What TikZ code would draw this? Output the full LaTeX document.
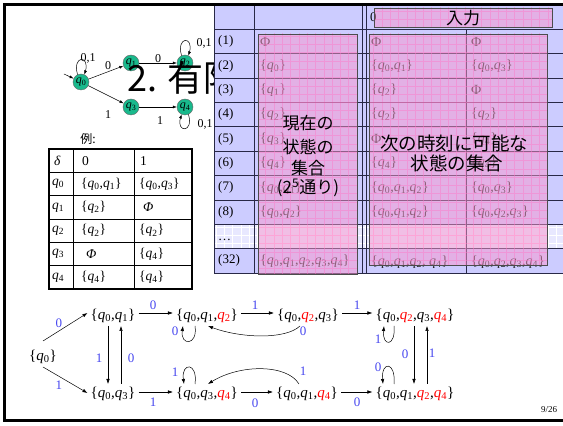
\documentclass[tikz,border=0pt]{standalone}
\usepackage{fontspec}
\setmainfont{Liberation Serif}
\newfontfamily\jp{Noto Sans CJK JP}
\usetikzlibrary{arrows.meta}
\definecolor{lav}{RGB}{204,204,255}
\definecolor{lavlight}{RGB}{232,232,255}
\definecolor{pinkov}{RGB}{250,150,205}
\definecolor{pinkgrid}{RGB}{255,120,200}
\definecolor{autogreen}{RGB}{25,185,140}
\definecolor{lblblue}{RGB}{70,70,240}
\definecolor{tline}{RGB}{40,40,70}
\newcommand{\qsub}[1]{\textit{q}\textsubscript{#1}}
\newcommand{\qred}[1]{\textcolor{red}{\qsub{#1}}}
\begin{document}
\begin{tikzpicture}[x=1pt,y=1pt,
  anode/.style={circle,fill=autogreen,draw=black!60,line width=0.4pt,minimum size=16pt,inner sep=0pt,font=\fontsize{12}{12}\selectfont},
  aedge/.style={-{Latex[length=4pt,width=3pt]},line width=0.5pt},
  alabel/.style={font=\fontsize{12}{12}\selectfont,inner sep=0pt},
  cell/.style={anchor=west,inner sep=0pt,font=\fontsize{14}{14}\selectfont,text=black!85},
  rowlab/.style={anchor=west,inner sep=0pt,font=\fontsize{13}{13}\selectfont},
  bigjp/.style={font=\jp\fontsize{17}{17}\selectfont,inner sep=0pt},
  bigjpr/.style={font=\jp\fontsize{18.5}{18.5}\selectfont,inner sep=0pt},
  dcell/.style={anchor=west,inner sep=0pt,font=\fontsize{13.5}{13.5}\selectfont},
  gnode/.style={inner sep=3pt,font=\fontsize{15}{15}\selectfont},
  gedge/.style={-{Latex[length=5pt,width=3.5pt]},line width=0.5pt},
  glabel/.style={text=lblblue,font=\fontsize{13}{13}\selectfont,inner sep=0pt},
  pinkbox/.style={fill=pinkov,fill opacity=0.5},
  pinkborder/.style={draw=black!70,line width=0.8pt},
  tl/.style={draw=tline,line width=0.7pt}
]
\useasboundingbox (0,0) rectangle (563,426);
\fill[white] (0,0) rectangle (563,426);

% ---------- automaton ----------
\node[anode] (q0) at (81,344) {\qsub{0}};
\node[anode] (q1) at (131,363) {\qsub{1}};
\node[anode] (q2) at (185,363) {\qsub{2}};
\node[anode] (q3) at (131,319) {\qsub{3}};
\node[anode] (q4) at (185,319) {\qsub{4}};
\coordinate (init) at (64,352);
\draw[aedge] (init) -- (q0);
\draw[aedge] (q0) -- (q1);
\draw[aedge] (q0) -- (q3);
\draw[aedge] (q1) -- (q2);
\draw[aedge] (q3) -- (q4);
\draw[aedge] (q0.115) .. controls (72,371) and (90,371) .. (q0.65);
\draw[aedge] (q2.115) .. controls (176,390) and (194,390) .. (q2.65);
\draw[aedge] (q4.-65) .. controls (194,293) and (176,293) .. (q4.-115);
\node[alabel] (l01a) at (88,368) {0,1};
\node[alabel] (l0a) at (108,360) {0};
\node[alabel] (l1a) at (108,311) {1};
\node[alabel] (l0b) at (158,367) {0};
\node[alabel] (l1b) at (160,305) {1};
\node[alabel] (l01b) at (204,383) {0,1};
\node[alabel] (l01c) at (205,302) {0,1};

% ---------- title ----------
\node[anchor=base west,inner sep=0pt,font=\jp\fontsize{36}{36}\selectfont] (title) at (127,334) {2. 有限};

% ---------- big table ----------
\fill[lav] (214,153.04) rectangle (566,421);
\fill[lavlight] (214,177.4) rectangle (566,201.76);
\begin{scope}
  \clip (214,177.4) rectangle (566,201.76);
  \draw[white,line width=0.35pt,step=8.3] (200,170) grid (570,210);
\end{scope}
\foreach \k in {1,...,11} { \draw[tl] (214,{421-24.36*\k}) -- (566,{421-24.36*\k}); }
\draw[tl] (214,153.04) -- (214,421);
\draw[tl] (254,153.04) -- (254,421);
\draw[tl] (362,153.04) -- (362,421);
\draw[tl] (366,153.04) -- (366,421);
\draw[tl] (466,153.04) -- (466,396.64);

\foreach \k/\t in {1/(1),2/(2),3/(3),4/(4),5/(5),6/(6),7/(7),8/(8),10/(32)} {
  \node[rowlab] at (218,{421-24.36*(\k+0.5)}) {\t};
}
\node[rowlab] (dots) at (218,186) {…};
\node[rowlab] (hd0) at (370,409) {0};

% column: current states
\node[cell] at (260,384.5) {Φ};
\node[cell] at (260,360.1) {\{\qsub{0}\}};
\node[cell] at (260,335.8) {\{\qsub{1}\}};
\node[cell] at (260,311.4) {\{\qsub{2}\}};
\node[cell] at (260,287.0) {\{\qsub{3}\}};
\node[cell] at (260,262.7) {\{\qsub{4}\}};
\node[cell] at (260,238.3) {\{\qsub{0},\qsub{1}\}};
\node[cell] at (260,214.0) {\{\qsub{0},\qsub{2}\}};
\node[cell] at (260,165.2) {\{\qsub{0},\qsub{1},\qsub{2},\qsub{3},\qsub{4}\}};
% column: input 0
\node[cell] at (371,384.5) {Φ};
\node[cell] at (371,360.1) {\{\qsub{0},\qsub{1}\}};
\node[cell] at (371,335.8) {\{\qsub{2}\}};
\node[cell] at (371,311.4) {\{\qsub{2}\}};
\node[cell] at (371,287.0) {Φ};
\node[cell] at (371,262.7) {\{\qsub{4}\}};
\node[cell] at (371,238.3) {\{\qsub{0},\qsub{1},\qsub{2}\}};
\node[cell] at (371,214.0) {\{\qsub{0},\qsub{1},\qsub{2}\}};
\node[cell] at (371,164.2) {\{\qsub{0},\qsub{1},\qsub{2}, \qsub{4}\}};
% column: input 1
\node[cell] at (471,384.5) {Φ};
\node[cell] at (471,360.1) {\{\qsub{0},\qsub{3}\}};
\node[cell] at (471,335.8) {Φ};
\node[cell] at (471,311.4) {\{\qsub{2}\}};
\node[cell] at (471,287.0) {\{\qsub{4}\}};
\node[cell] at (471,262.7) {\{\qsub{4}\}};
\node[cell] at (471,238.3) {\{\qsub{0},\qsub{3}\}};
\node[cell] at (471,214.0) {\{\qsub{0},\qsub{2},\qsub{3}\}};
\node[cell] at (471,164.2) {\{\qsub{0},\qsub{2},\qsub{3},\qsub{4}\}};

% pink overlay boxes
\foreach \xa/\ya/\xb/\yb in {258/152/357/392, 369/161/547/392, 374/399/552/418} {
  \fill[pinkbox] (\xa,\ya) rectangle (\xb,\yb);
  \begin{scope}
    \clip (\xa,\ya) rectangle (\xb,\yb);
    \draw[pinkgrid,draw opacity=0.45,line width=0.3pt,step=8.3] (250,140) grid (560,420);
  \end{scope}
  \draw[pinkborder] (\xa,\ya) rectangle (\xb,\yb);
}

\node[font=\jp\fontsize{17}{17}\selectfont,inner sep=0pt] (inp) at (463,408) {入力};
\node[bigjp] (c1) at (308,303) {現在の};
\node[bigjp] (c2) at (308,279) {状態の};
\node[bigjp] (c3) at (308,258) {集合};
\node[bigjp] (c4) at (308,238) {(2\textsuperscript{5}通り)};
\node[bigjpr] (n1) at (454,283) {次の時刻に可能な};
\node[bigjpr] (n2) at (457,263) {状態の集合};

% ---------- transition table ----------
\node[font=\jp\fontsize{12}{12}\selectfont,inner sep=0pt] (rei) at (88,287) {例:};
\foreach \yy in {253.7,230.3,207,183.7,160.3} { \draw[line width=0.7pt] (49,\yy) -- (192,\yy); }
\draw[line width=0.7pt] (73,137) -- (73,277);
\draw[line width=0.7pt] (134,137) -- (134,277);
\draw[line width=1.4pt] (49,137) rectangle (192,277);
\node[dcell] at (54,265.3) {\textit{δ}};
\node[dcell] at (82,265.3) {0};
\node[dcell] at (140,265.3) {1};
\node[dcell] at (52,242) {\qsub{0}};
\node[dcell] at (81,242) {\{\qsub{0},\qsub{1}\}};
\node[dcell] at (139,242) {\{\qsub{0},\qsub{3}\}};
\node[dcell] at (52,218.7) {\qsub{1}};
\node[dcell] at (81,218.7) {\{\qsub{2}\}};
\node[dcell] at (143,218.7) {\textit{Φ}};
\node[dcell] at (52,195.3) {\qsub{2}};
\node[dcell] at (81,195.3) {\{\qsub{2}\}};
\node[dcell] at (139,195.3) {\{\qsub{2}\}};
\node[dcell] at (52,172) {\qsub{3}};
\node[dcell] at (86,172) {\textit{Φ}};
\node[dcell] at (139,172) {\{\qsub{4}\}};
\node[dcell] at (52,148.7) {\qsub{4}};
\node[dcell] at (81,148.7) {\{\qsub{4}\}};
\node[dcell] at (139,148.7) {\{\qsub{4}\}};

% ---------- subset graph ----------
\node[gnode] (A) at (43,69) {\{\qsub{0}\}};
\node[gnode] (B) at (113,110) {\{\qsub{0},\qsub{1}\}};
\node[gnode] (C) at (113,32) {\{\qsub{0},\qsub{3}\}};
\node[gnode] (D) at (207,110) {\{\qsub{0},\qsub{1},\qred{2}\}};
\node[gnode] (E) at (207,32) {\{\qsub{0},\qsub{3},\qred{4}\}};
\node[gnode] (F) at (308,110) {\{\qsub{0},\qred{2},\qsub{3}\}};
\node[gnode] (G) at (307,32) {\{\qsub{0},\qsub{1},\qred{4}\}};
\node[gnode] (H) at (415,110) {\{\qsub{0},\qred{2},\qsub{3},\qred{4}\}};
\node[gnode] (I) at (415,32) {\{\qsub{0},\qsub{1},\qred{2},\qred{4}\}};

\draw[gedge] ([yshift=6pt]A.north) -- ([yshift=3pt]B.west);
\draw[gedge] (A.south) -- ([yshift=1pt]C.west);
\draw[gedge] ([xshift=-5pt]B.south) -- ([xshift=-5pt]C.north);
\draw[gedge] ([xshift=8pt]C.north) -- ([xshift=8pt]B.south);
\draw[gedge] ([yshift=3pt]B.east) -- ([yshift=3pt]D.west);
\draw[gedge] ([yshift=2pt]C.east) -- ([yshift=2pt]E.west);
\draw[gedge] ([yshift=3pt]D.east) -- ([yshift=3pt]F.west);
\draw[gedge] ([yshift=2pt]E.east) -- ([yshift=2pt]G.west);
\draw[gedge] ([yshift=3pt]F.east) -- ([yshift=3pt]H.west);
\draw[gedge] ([yshift=2pt]G.east) -- ([yshift=2pt]I.west);
\draw[gedge] ([xshift=-1pt]H.south) -- ([xshift=-1pt]I.north);
\draw[gedge] ([xshift=12pt]I.north) -- ([xshift=12pt]H.south);
\draw[gedge] ([xshift=-12pt]D.south) .. controls +(3,-20) and +(-3,-20) .. ([xshift=-24pt]D.south);
\draw[gedge] ([xshift=-12pt]E.north) .. controls +(3,22) and +(-3,22) .. ([xshift=-23pt]E.north);
\draw[gedge] ([xshift=-21pt]H.south) .. controls +(2,-21) and +(-2,-21) .. ([xshift=-31pt]H.south);
\draw[gedge] ([xshift=-21pt]I.north) .. controls +(2,23) and +(-2,23) .. ([xshift=-32pt]I.north);
\draw[gedge] ([xshift=-8pt]F.south) .. controls (285,86) and (240,88) .. ([xshift=1pt]D.south);
\draw[gedge] ([xshift=-8pt]G.north) .. controls (287,62) and (240,62) .. ([xshift=1pt]E.north);

\node[glabel] at (59,103) {0};
\node[glabel] at (59,41) {1};
\node[glabel] at (99,68) {1};
\node[glabel] at (131,68) {0};
\node[glabel] at (153,121) {0};
\node[glabel] at (153,24) {1};
\node[glabel] at (255,121) {1};
\node[glabel] at (255,23) {0};
\node[glabel] at (357,121) {1};
\node[glabel] at (357,24) {0};
\node[glabel] at (175,95) {0};
\node[glabel] at (175,54) {1};
\node[glabel] at (303,95) {0};
\node[glabel] at (303,55) {1};
\node[glabel] at (378,87) {1};
\node[glabel] at (378,59) {0};
\node[glabel] at (405,72) {0};
\node[glabel] at (432,73) {1};

\node[font=\fontsize{9}{9}\selectfont,inner sep=0pt] (pg) at (549,16) {9/26};

% ---------- frame ----------
\draw[line width=3pt] (4,5) rectangle (566,421);
\end{tikzpicture}
\end{document}
